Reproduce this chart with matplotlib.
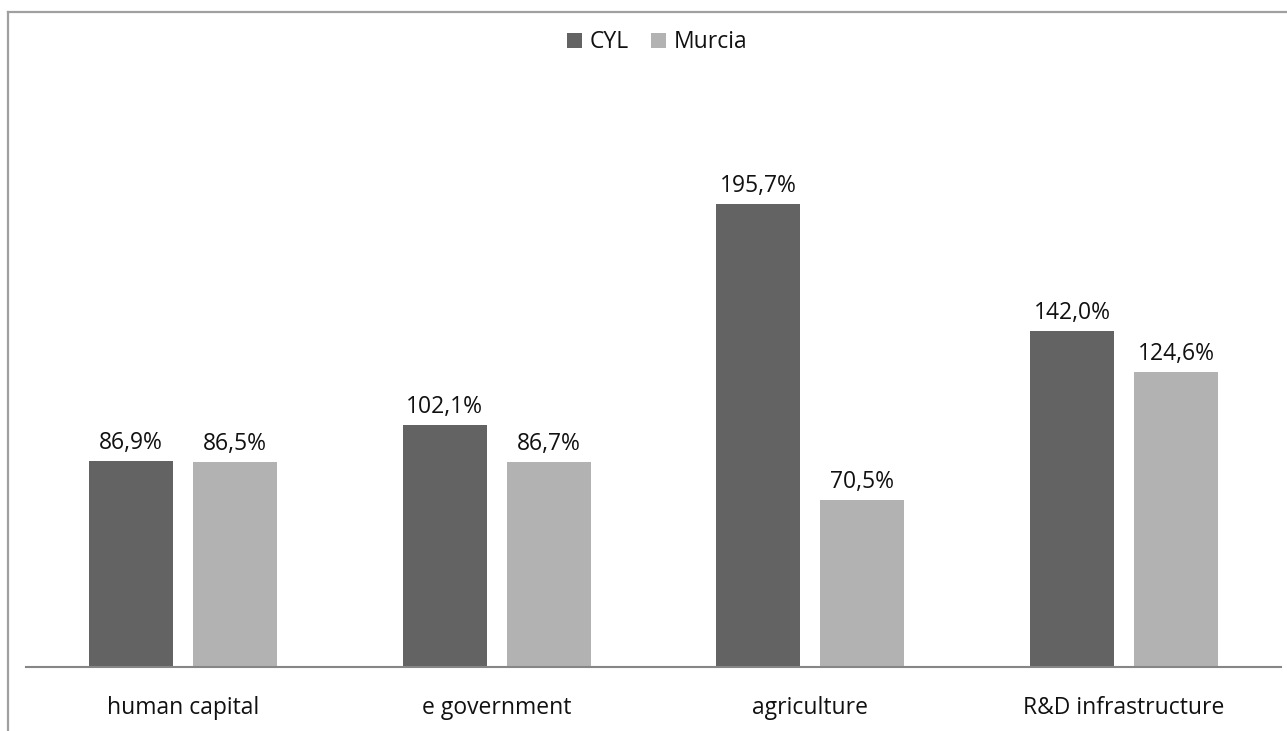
import matplotlib
matplotlib.use("Agg")
import matplotlib.pyplot as plt
from matplotlib.lines import Line2D
import numpy as np

categories = ["human capital", "e government", "agriculture", "R&D infrastructure"]
series_names = ["CYL", "Murcia"]
cyl_values = [86.9, 102.1, 195.7, 142.0]
murcia_values = [86.5, 86.7, 70.5, 124.6]
colors = ["#636363", "#b2b2b2"]

plt.rcParams["font.family"] = ["Open Sans", "DejaVu Sans"]
FS = 16.5

W, H = 1287, 731
fig = plt.figure(figsize=(W / 100, H / 100), dpi=100)

# outer chart frame (left and top edges visible)
fig.add_artist(Line2D([7.5 / W, 7.5 / W], [0, 1 - 11.5 / H], color="#a0a0a0", lw=1.6,
                      transform=fig.transFigure))
fig.add_artist(Line2D([7.5 / W, 1], [1 - 11.5 / H, 1 - 11.5 / H], color="#a0a0a0", lw=1.6,
                      transform=fig.transFigure))

base_y = 667
ymax = 260
px_per_unit = (667 - 204) / 195.7
top_y = base_y - ymax * px_per_unit
ax = fig.add_axes([26 / W, (H - base_y) / H, (1281 - 26) / W, (base_y - top_y) / H])

x = np.arange(len(categories))
width = 0.268
offset = 0.166
b1 = ax.bar(x - offset, cyl_values, width, color=colors[0], label=series_names[0])
b2 = ax.bar(x + offset, murcia_values, width, color=colors[1], label=series_names[1])

for bars, vals in ((b1, cyl_values), (b2, murcia_values)):
    for rect, v in zip(bars, vals):
        ax.annotate(f"{v:.1f}%".replace(".", ","),
                    (rect.get_x() + rect.get_width() / 2, v),
                    xytext=(0, 4.5), textcoords="offset points",
                    ha="center", va="bottom", fontsize=FS, color="#111111")

ax.set_xlim(-0.5, len(categories) - 0.5)
ax.set_ylim(0, ymax)
for s in ("top", "right", "left"):
    ax.spines[s].set_visible(False)
ax.spines["bottom"].set_color("#868686")
ax.spines["bottom"].set_linewidth(1.5)
ax.set_yticks([])
ax.set_xticks(x)
ax.set_xticklabels(categories, fontsize=FS, color="#111111")
ax.tick_params(axis="x", length=0, pad=21)

leg = fig.legend(loc="center", bbox_to_anchor=(657 / W, 1 - 42.5 / H), ncol=2, frameon=False,
                 fontsize=FS, handlelength=0.65, handleheight=0.65, handletextpad=0.35,
                 columnspacing=0.95)
for t in leg.get_texts():
    t.set_color("#111111")

fig.savefig("out.png", dpi=100)
